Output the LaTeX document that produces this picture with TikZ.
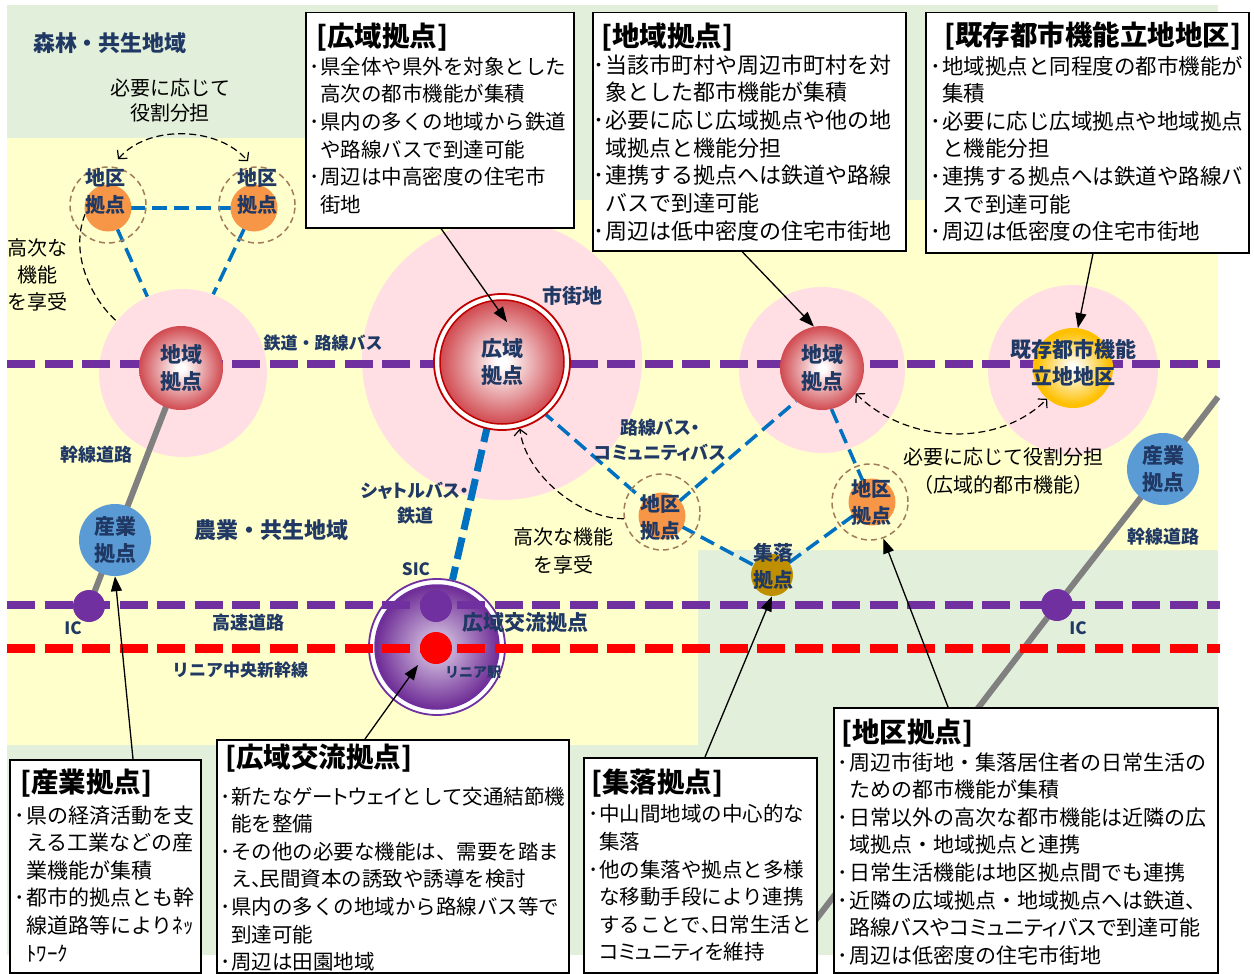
\documentclass[tikz,border=0pt]{standalone}
\usepackage{fontspec}
\setmainfont{Noto Sans CJK JP}
\newfontfamily\propfont{Noto Sans CJK JP}[RawFeature=+palt]
\usetikzlibrary{arrows.meta}
\usetikzlibrary{calc}

\definecolor{navy}{HTML}{1F3864}
\definecolor{forestgreen}{HTML}{E2EFDA}
\definecolor{farmyellow}{HTML}{FFFFCC}
\definecolor{halopink}{HTML}{FFDFE4}
\definecolor{railpurple}{HTML}{7030A0}
\definecolor{linearred}{HTML}{FF0000}
\definecolor{busblue}{HTML}{0070C0}
\definecolor{roadgray}{HTML}{808080}
\definecolor{ringred}{HTML}{C00000}
\definecolor{glowred}{HTML}{D04A50}
\definecolor{glowgold}{HTML}{FFC000}
\definecolor{glowpurple}{HTML}{6E2C96}
\colorlet{purplecore}{white!80!glowpurple}
\definecolor{kuorange}{HTML}{F79646}
\definecolor{kubrown}{HTML}{A07C5A}
\definecolor{shurakugold}{HTML}{BF8F00}
\definecolor{sangyoblue}{HTML}{5B9BD5}

\pgfdeclareradialshading{redglow}{\pgfpoint{0bp}{0bp}}{color(0bp)=(white); color(2bp)=(white); color(25bp)=(glowred); color(50bp)=(glowred)}
\pgfdeclareradialshading{goldglow}{\pgfpoint{0bp}{0bp}}{color(0bp)=(white); color(2bp)=(white); color(23bp)=(glowgold); color(50bp)=(glowgold)}
\pgfdeclareradialshading{purpleglow}{\pgfpoint{0bp}{0bp}}{color(0bp)=(purplecore); color(25bp)=(glowpurple); color(50bp)=(glowpurple)}

\pgfdeclarelayer{areas}
\pgfdeclarelayer{hidden}
\pgfdeclarelayer{halos}
\pgfdeclarelayer{roads}
\pgfsetlayers{areas,hidden,halos,roads,main}

\newcommand{\kdot}{\makebox[12pt][c]{･}}
\newcommand{\kind}{\hspace*{12pt}}
\newcommand{\tou}{\makebox[0.4em][l]{、}}
\def\rowgap{27.6}
\newcommand{\boxbody}[5]{%
  \foreach \lineitem [count=\i] in {#5}
    \node[boxline,font=\fontsize{#4}{#4}\selectfont] (#1\i) at (#2,{#3+\rowgap*(\i-1)}) {\lineitem};}

\begin{document}
\begin{tikzpicture}[x=1pt,y=-1pt,
  every node/.style={inner sep=0pt},
  lbl/.style={font=\bfseries\fontsize{#1}{27}\selectfont,text=navy,align=center},
  lbl/.default=17,
  plbl/.style={font=\propfont\bfseries\fontsize{18}{24.5}\selectfont,text=navy,align=center},
  note/.style={font=\fontsize{20}{#1}\selectfont,align=center},
  note/.default=27,
  halo/.style={circle,fill=halopink,minimum size=#1},
  glowball/.style={circle,shade,shading=#1,minimum size=84pt,text=navy,
    font=\bfseries\fontsize{21}{27}\selectfont,align=center},
  ringnode/.style={circle,fill=white,draw=#1,line width=1.8pt,minimum size=136pt},
  kunode/.style={circle,fill=kuorange,minimum size=47pt},
  kuring/.style={circle,draw=kubrown,line width=1.5pt,dash pattern=on 6pt off 4pt,minimum size=76pt},
  sangyo/.style={circle,fill=sangyoblue,minimum size=72pt,text=navy,
    font=\bfseries\fontsize{21}{27}\selectfont,align=center},
  smallstop/.style={circle,fill=#1,minimum size=32pt},
  rail/.style={line width=8.5pt,dash pattern=on 28pt off 9.5pt},
  busline/.style={busblue,line width=3.5pt,dash pattern=on 15pt off 7pt},
  shuttle/.style={busblue,line width=7pt,dash pattern=on 22pt off 8pt},
  trunk/.style={roadgray,line width=6pt},
  rolearc/.style={line width=1.2pt,dash pattern=on 7pt off 4pt,>={Straight Barb[length=6pt,width=13pt]}},
  pointer/.style={line width=1.3pt,-{Triangle[length=15pt,width=11pt]}},
  infobox/.style={draw=black,line width=1.5pt,fill=white,anchor=north west},
  boxhead/.style={anchor=base west,font=\bfseries\fontsize{27.5}{30}\selectfont},
  boxline/.style={anchor=base west}]
\useasboundingbox (0,0) rectangle (1254,974);

%areas
\begin{pgfonlayer}{areas}
\fill[forestgreen] (7,5) rectangle (1218,955);
\fill[farmyellow] (7,138) -- (440,138) -- (440,200) -- (1218,200) -- (1218,550)
  -- (698,550) -- (698,745) -- (7,745) -- cycle;
\end{pgfonlayer}

%halos
\begin{pgfonlayer}{halos}
\node[halo=168pt] (haloL) at (183,373) {};
\node[halo=280pt] (haloC) at (502,360) {};
\node[halo=166pt] (haloR) at (822,370) {};
\node[halo=170pt] (haloK) at (1073,370) {};
\end{pgfonlayer}

%line ends
\coordinate (railW) at (7,364);
\coordinate (railE) at (1220,364);
\coordinate (hwyW) at (7,605);
\coordinate (hwyE) at (1220,605);
\coordinate (linW) at (7,648.5);
\coordinate (linE) at (1220,648.5);
\coordinate (roadNE) at (1218,397);
\coordinate (roadSW) at (785,960);

%nodes
\node[glowball=redglow] (chiikiL) at (181,368) {地域\\拠点};
\node[glowball=redglow] (chiikiR) at (822,368) {地域\\拠点};
\node[ringnode=ringred] (kouikiring) at (502,362) {};
\node[glowball=redglow,draw=ringred,line width=1.5pt,minimum size=124pt] (kouiki) at (502,362) {広域\\拠点};
\node[glowball=goldglow,minimum size=80pt] (kizon) at (1073,368) {};
\node[kuring] (kuTLring) at (108,205) {};
\node[kunode] (kuTL) at (108,208) {};
\node[kuring] (kuTRring) at (257,205) {};
\node[kunode] (kuTR) at (254,208) {};
\node[kuring] (kuCring) at (662,512) {};
\node[kunode] (kuC) at (662,516) {};
\node[kuring] (kuRring) at (870,502) {};
\node[kunode] (kuR) at (872,502) {};
\node[circle,fill=shurakugold,minimum size=42pt] (shuraku) at (772,575) {};
\node[sangyo] (sangyoL) at (115,540) {産業\\拠点};
\node[sangyo] (sangyoR) at (1163,469) {産業\\拠点};
\node[smallstop=railpurple] (icL) at (89,606) {};
\node[smallstop=railpurple] (icR) at (1057,605) {};
\node[smallstop=railpurple] (sic) at (436,606) {};
\node[smallstop=linearred] (linearst) at (436,648) {};

%lines under the halos
\begin{pgfonlayer}{hidden}
\draw[busline] (kuTL.center) -- (kuTR.center);
\draw[busline] (kuTL.center) -- (haloL.115);
\draw[busline] (kuTR.center) -- (haloL.69);
\draw[rolearc] (kuTL.195) .. controls +(-16,40) and +(-25,-22) .. (haloL.142);
\end{pgfonlayer}

%roads and lines
\begin{pgfonlayer}{roads}
\draw[trunk] (chiikiL.center) -- (icL.center);
\draw[trunk] (roadNE) -- (sangyoR.center) -- (icR.center) -- (roadSW);
\draw[busline] (kouiki.-51) -- (kuC.center);
\draw[busline] (kuC.center) -- (shuraku.center);
\draw[busline] (kuC.center) -- (chiikiR.-128);
\draw[busline] (chiikiR.-77) -- (kuR.center);
\draw[busline] (kuR.center) -- (shuraku.center);
\node[ringnode=railpurple] (koryuring) at (437,647) {};
\node[glowball=purpleglow,draw=railpurple,line width=1.5pt,minimum size=124pt] (koryu) at (437,647) {};
\draw[shuttle] (kouiki.center) -- (koryuring.77);
\draw[rail,railpurple] (railW) -- (railE);
\draw[rail,railpurple] (hwyW) -- (hwyE);
\draw[rail,linearred] (linW) -- (linE);
\end{pgfonlayer}

%labels
\node[lbl=22] (forestlbl) at (110,43) {森林・共生地域};
\node[lbl=22] (farmlbl) at (271,530) {農業・共生地域};
\node[lbl=20] (kuTLlbl) at (105,191) {地区\\拠点};
\node[lbl=20] (kuTRlbl) at (257,191) {地区\\拠点};
\node[lbl=20] (kuClbl) at (660,517) {地区\\拠点};
\node[lbl=20] (kuRlbl) at (871,502) {地区\\拠点};
\node[lbl=20] (shurakulbl) at (773,566) {集落\\拠点};
\node[lbl=21] (kizonlbl) at (1073,363) {既存都市機能\\立地地区};
\node[lbl=17] (raillbl) at (323,343) {鉄道・路線バス};
\node[lbl=20] (townlbl) at (572,296) {市街地};
\node[lbl=18] (trunkLlbl) at (96,455) {幹線道路};
\node[lbl=18] (trunkRlbl) at (1163,537) {幹線道路};
\node[plbl] (shuttlelbl) at (415,503) {シャトルバス・\\鉄道};
\node[plbl] (buslbl) at (660,440) {路線バス・\\コミュニティバス};
\node[lbl=17] (siclbl) at (416,569) {SIC};
\node[lbl=21] (koryulbl) at (525,623) {広域交流拠点};
\node[lbl=14] (linearstlbl) at (473,672) {リニア駅};
\node[lbl=17] (icLlbl) at (73,628) {IC};
\node[lbl=17] (icRlbl) at (1078,628) {IC};
\node[lbl=18] (hwylbl) at (248,623) {高速道路};
\node[lbl=17] (linearlbl) at (240,670) {リニア中央新幹線};
\node[note=25] (roleLnote) at (170,100) {必要に応じて\\役割分担};
\node[note=27] (higherLnote) at (37,275) {高次な\\機能\\を享受};
\node[note=28] (higherCnote) at (563,551) {高次な機能\\を享受};
\node[note=28] (roleRnote) at (1003,471) {必要に応じて役割分担\\（広域的都市機能）};

%role arrows
\draw[rolearc,<->] ($(kuTLring.north)+(10,-7)$) .. controls +(30,-35) and +(-30,-35) .. ($(kuTRring.north)+(-9,-5)$);
\draw[rolearc,->] (kuCring.190) .. controls +(-45,0) and +(5,45) .. (kouikiring.-75);
\draw[rolearc,<->] (chiikiR.-37) .. controls +(50,50) and +(-50,50) .. (kizon.-130);

%boxes
\node[infobox,minimum width=268pt,minimum height=215pt] (kouikibox) at (305,12) {};
\node[boxhead] (kouikihead) at (316,46.5) {[広域拠点]};
\boxbody{kouikiline}{308}{74.3}{20.5}{\kdot 県全体や県外を対象とした,\kind 高次の都市機能が集積,
  \kdot 県内の多くの地域から鉄道,\kind や路線バスで到達可能,\kdot 周辺は中高密度の住宅市,\kind 街地}

\node[infobox,minimum width=313pt,minimum height=238pt] (chiikibox) at (592,12) {};
\node[boxhead] (chiikihead) at (601,46.5) {[地域拠点]};
\boxbody{chiikiline}{593}{73.4}{22}{\kdot 当該市町村や周辺市町村を対,\kind 象とした都市機能が集積,
  \kdot 必要に応じ広域拠点や他の地,\kind 域拠点と機能分担,\kdot 連携する拠点へは鉄道や路線,
  \kind バスで到達可能,\kdot 周辺は低中密度の住宅市街地}

\node[infobox,minimum width=323pt,minimum height=240pt] (kizonbox) at (925,12) {};
\node[boxhead] (kizonhead) at (944,46) {[既存都市機能立地地区]};
\boxbody{kizonline}{930}{74.2}{21.5}{\kdot 地域拠点と同程度の都市機能が,\kind 集積,
  \kdot 必要に応じ広域拠点や地域拠点,\kind と機能分担,\kdot 連携する拠点へは鉄道や路線バ,
  \kind スで到達可能,\kdot 周辺は低密度の住宅市街地}

\node[infobox,minimum width=191pt,minimum height=213pt] (sangyobox) at (9,759) {};
\node[boxhead] (sangyohead) at (20,792.5) {[産業拠点]};
\boxbody{sangyoline}{14}{823}{21}{\kdot 県の経済活動を支,\kind える工業などの産,\kind 業機能が集積,
  \kdot 都市的拠点とも幹,\kind 線道路等によりﾈｯ,\kind ﾄﾜｰｸ}

\node[infobox,minimum width=352pt,minimum height=233pt] (koryubox) at (216,739) {};
\node[boxhead] (koryuhead) at (225,767) {[広域交流拠点]};
\boxbody{koryuline}{219}{804}{20.5}{\kdot 新たな{\propfont ゲートウェイ}として交通結節機,\kind 能を整備,
  \kdot その他の必要な機能は、需要を踏ま,\kind え\tou 民間資本の誘致や誘導を検討,
  \kdot 県内の多くの地域から路線バス等で,\kind 到達可能,\kdot 周辺は田園地域}

\node[infobox,minimum width=233pt,minimum height=215pt] (shurakubox) at (583,757) {};
\node[boxhead] (shurakuhead) at (591,792.5) {[集落拠点]};
\boxbody{shurakuline}{587}{821.8}{20.5}{\kdot 中山間地域の中心的な,\kind 集落,\kdot 他の集落や拠点と多様,
  \kind な移動手段により連携,\kind することで\tou 日常生活と,\kind {\propfont コミュニティを維持}}

\node[infobox,minimum width=384pt,minimum height=265pt] (chikubox) at (833,707) {};
\node[boxhead] (chikuhead) at (841,742.5) {[地区拠点]};
\boxbody{chikuline}{837}{770}{21}{\kdot 周辺市街地・集落居住者の日常生活の,\kind ための都市機能が集積,
  \kdot 日常以外の高次な都市機能は近隣の広,\kind 域拠点・地域拠点と連携,
  \kdot 日常生活機能は地区拠点間でも連携,\kdot 近隣の広域拠点・地域拠点へは鉄道、,
  \kind {\propfont 路線バスやコミュニティバスで到達可能},\kdot 周辺は低密度の住宅市街地}

%pointers
\draw[pointer] ($(kouikibox.south west)+(136,0)$) -- ($(kouiki.center)+(5,-40)$);
\draw[pointer] ($(chiikibox.south west)+(150,0)$) -- (chiikiR.101);
\draw[pointer] ($(kizonbox.south west)+(168,0)$) -- (kizon.83);
\draw[pointer] ($(sangyobox.north west)+(124,0)$) -- (sangyoL.south);
\draw[pointer] ($(koryubox.north west)+(149,0)$) -- ($(koryu.center)+(-19,18)$);
\draw[pointer] ($(shurakubox.north west)+(122,0)$) -- (shuraku.south);
\draw[pointer] ($(chikubox.north west)+(115,0)$) -- (kuRring.-70);
\end{tikzpicture}
\end{document}
